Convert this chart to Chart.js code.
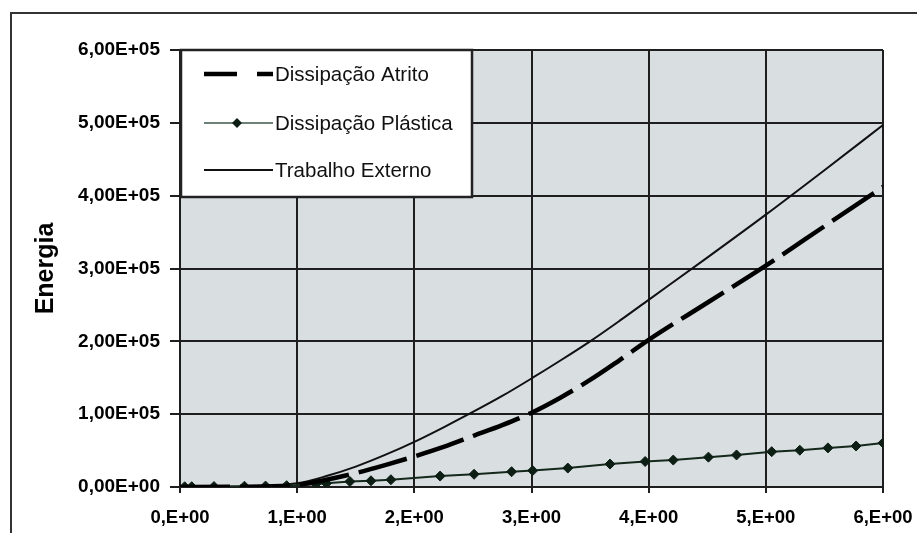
<!DOCTYPE html>
<html>
<head>
<meta charset="utf-8">
<script src="https://cdn.jsdelivr.net/npm/chart.js@4.4.1/dist/chart.umd.min.js"></script>
<style>
  body { margin: 0; background: #fff; }
  canvas { display: block; }
</style>
</head>
<body>
<canvas id="chart" width="917" height="533"></canvas>
<script>
// series
const xAtrito = [0, 0.5, 1, 1.25, 1.5, 1.75, 2, 2.25, 2.5, 2.75, 3, 3.25, 3.5, 3.75, 4, 4.5, 5, 5.5, 6];
const atrito = [0, 300, 3000, 10000, 19000, 30000, 42000, 55000, 70000, 85000, 102000, 123000, 147000, 174000, 202000, 253000, 304000, 358000, 412000];

const xPlastica = [0.04, 0.10, 0.29, 0.55, 0.73, 0.91, 1.16, 1.25, 1.45, 1.63, 1.80, 2.22, 2.51, 2.83, 3.01, 3.31, 3.67, 3.97, 4.21, 4.51, 4.75, 5.05, 5.29, 5.53, 5.77, 6.0];
const plastica = [300, 400, 600, 1000, 1300, 1800, 4000, 5000, 7500, 8500, 10000, 15000, 17500, 21000, 22500, 26000, 31500, 35000, 37000, 41000, 44000, 48500, 50500, 53700, 56300, 60500];

const xTrabalho = [0, 0.5, 1, 1.25, 1.5, 1.75, 2, 2.25, 2.5, 2.75, 3, 3.25, 3.5, 3.75, 4, 4.5, 5, 5.5, 6];
const trabalho = [0, 500, 5000, 15000, 28000, 44000, 62000, 82000, 103000, 125000, 149000, 174000, 200000, 228000, 257000, 315000, 374000, 435000, 497000];

const seriesNames = ["Dissipação Atrito", "Dissipação Plástica", "Trabalho Externo"];
const yTitle = "Energia";

const FONT = "'Liberation Sans', Arial, sans-serif";

// 6,00E+05 / 1,E+00 style labels
function sci(v, d) {
  let e = 0;
  if (v !== 0) e = Math.floor(Math.log10(Math.abs(v)) + 1e-9);
  const m = v / Math.pow(10, e);
  const mant = d > 0 ? m.toFixed(d).replace(".", ",") : Math.round(m) + ",";
  return mant + "E" + (e < 0 ? "-" : "+") + String(Math.abs(e)).padStart(2, "0");
}

function pts(xs, ys) {
  return xs.map((x, i) => ({ x: x, y: ys[i] }));
}

const frame = {
  id: "frame",
  beforeDraw(chart) {
    const { ctx, chartArea: a } = chart;
    ctx.save();
    ctx.fillStyle = "#fff";
    ctx.fillRect(0, 0, chart.width, chart.height);
    ctx.strokeStyle = "#333";
    ctx.lineWidth = 2;
    ctx.strokeRect(11, 13, chart.width + 20, chart.height + 20);
    ctx.fillStyle = "#d9dee1";
    ctx.fillRect(a.left, a.top, a.right - a.left, a.bottom - a.top);
    ctx.restore();
  }
};

const legendBox = {
  id: "legendBox",
  afterDraw(chart) {
    const ctx = chart.ctx;
    const a = chart.chartArea;
    const x0 = a.left + 1, y0 = a.top, w = 291, h = 147;
    ctx.save();
    ctx.fillStyle = "#fff";
    ctx.fillRect(x0, y0, w, h);
    ctx.strokeStyle = "#222";
    ctx.lineWidth = 2.5;
    ctx.strokeRect(x0, y0, w, h);

    const lx1 = 204, lx2 = 273;
    const rows = [74, 123, 170];
    chart.data.datasets.forEach((ds, i) => {
      const y = rows[i];
      ctx.strokeStyle = i === 1 ? "#3d5a4a" : ds.borderColor;
      ctx.lineWidth = i === 1 ? 1.5 : ds.borderWidth;
      ctx.setLineDash(i === 0 ? [33, 20] : []);
      ctx.beginPath();
      ctx.moveTo(lx1, y);
      ctx.lineTo(lx2, y);
      ctx.stroke();
      ctx.setLineDash([]);
      if (ds.pointRadius > 0) {
        const mx = 237, r = ds.pointRadius;
        ctx.fillStyle = ds.pointBackgroundColor;
        ctx.beginPath();
        ctx.moveTo(mx, y - r);
        ctx.lineTo(mx + r, y);
        ctx.lineTo(mx, y + r);
        ctx.lineTo(mx - r, y);
        ctx.closePath();
        ctx.fill();
      }
      ctx.fillStyle = "#111";
      ctx.font = "20.5px " + FONT;
      ctx.textBaseline = "middle";
      ctx.textAlign = "left";
      ctx.fillText(ds.label, lx2 + 2, y + 1);
    });
    ctx.restore();
  }
};

new Chart(document.getElementById("chart"), {
  type: "line",
  data: {
    datasets: [
      {
        label: seriesNames[0],
        data: pts(xAtrito, atrito),
        borderColor: "#000",
        borderWidth: 4.5,
        borderDash: [50, 10],
        pointRadius: 0,
        cubicInterpolationMode: "monotone"
      },
      {
        label: seriesNames[1],
        data: pts(xPlastica, plastica),
        borderColor: "#14281c",
        borderWidth: 2,
        pointStyle: "rectRot",
        pointRadius: 5,
        pointBackgroundColor: "#0d1f14",
        pointBorderColor: "#0d1f14",
        pointBorderWidth: 1
      },
      {
        label: seriesNames[2],
        data: pts(xTrabalho, trabalho),
        borderColor: "#111",
        borderWidth: 2,
        pointRadius: 0,
        cubicInterpolationMode: "monotone"
      }
    ]
  },
  options: {
    responsive: false,
    animation: false,
    devicePixelRatio: 1,
    layout: { padding: { top: 50, right: 34, left: 0, bottom: 0 } },
    plugins: {
      legend: { display: false },
      tooltip: { enabled: false }
    },
    scales: {
      x: {
        type: "linear",
        min: 0,
        max: 6,
        afterFit: (s) => { s.height = 46; s.paddingLeft = 0; s.paddingRight = 0; },
        grid: { color: "#1e1e1e", lineWidth: 2, tickLength: 6 },
        border: { color: "#1e1e1e", width: 2 },
        ticks: {
          stepSize: 1,
          padding: 14,
          maxRotation: 0,
          color: "#000",
          font: { family: FONT, size: 18.5, weight: "bold" },
          callback: (v) => sci(v, 0)
        }
      },
      y: {
        min: 0,
        max: 600000,
        afterFit: (s) => { s.width = 180; },
        grid: { color: "#1e1e1e", lineWidth: 2, tickLength: 10 },
        border: { color: "#1e1e1e", width: 2 },
        title: {
          display: true,
          text: yTitle,
          color: "#000",
          padding: { top: 31, bottom: 0 },
          font: { family: FONT, size: 25, weight: "bold" }
        },
        ticks: {
          stepSize: 100000,
          padding: 10,
          color: "#000",
          font: { family: FONT, size: 19, weight: "bold" },
          callback: (v) => sci(v, 2)
        }
      }
    }
  },
  plugins: [frame, legendBox]
});
</script>
</body>
</html>
